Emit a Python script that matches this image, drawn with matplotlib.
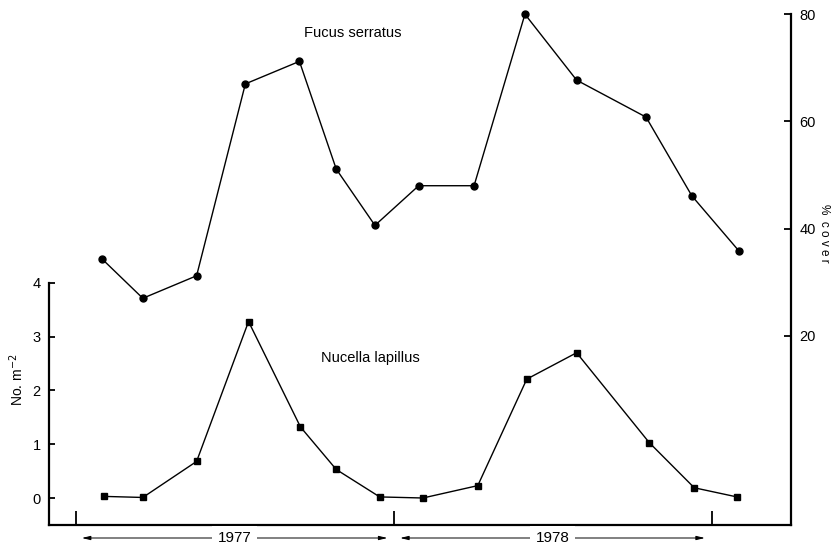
import matplotlib
matplotlib.use("Agg")
import matplotlib.pyplot as plt
import matplotlib.transforms as mtransforms

# ---- data (x in months from 1 Jan 1977) ----
fucus_month = [1.01, 2.54, 4.57, 6.41, 8.45, 9.84, 11.3, 12.95, 15.04, 16.96, 18.91, 21.53, 23.26, 25.04]
fucus_cover = [34.3, 27.0, 31.2, 67.0, 71.2, 51.1, 40.6, 48.0, 48.0, 80.0, 67.7, 60.8, 46.1, 35.8]
nucella_month = [1.07, 2.54, 4.57, 6.53, 8.49, 9.84, 11.48, 13.11, 15.18, 17.03, 18.91, 21.65, 23.35, 24.96]
nucella_density = [0.03, 0.01, 0.68, 3.28, 1.32, 0.53, 0.02, 0.0, 0.23, 2.21, 2.70, 1.03, 0.19, 0.02]
left_ticks = [0, 1, 2, 3, 4]
right_ticks = [20, 40, 60, 80]
year_ticks = [0, 12, 24]
years = ["1977", "1978"]
year_spans = [(0.24, 11.77), (12.25, 23.75)]

plt.rcParams['font.family'] = ['Liberation Sans', 'DejaVu Sans']

W, H = 838, 547
fig = plt.figure(figsize=(W / 100, H / 100), dpi=100)
left_px, right_px, top_px, bottom_px = 49, 791, 14, 525
ax = fig.add_axes([left_px / W, 1 - bottom_px / H, (right_px - left_px) / W, (bottom_px - top_px) / H])
ax2 = ax.twinx()

# left axis (Nucella)
ax.set_xlim(-1.0, 27.0)
ppu = 53.8
zero_px = 498
ax.set_ylim(-(bottom_px - zero_px) / ppu, (zero_px - top_px) / ppu)
ax.plot(nucella_month, nucella_density, color='black', lw=1.0, marker='s', ms=4.2,
        markerfacecolor='black', clip_on=False, zorder=3)
ax.set_yticks(left_ticks)
ax.set_yticklabels([str(t) for t in left_ticks], fontsize=10.5)
ax.spines['left'].set_bounds(ax.get_ylim()[0], 4)
ax.spines['top'].set_visible(False)
ax.spines['right'].set_visible(False)
for s in ('left', 'bottom'):
    ax.spines[s].set_linewidth(1.6)
ax.tick_params(axis='y', direction='in', length=4, width=1.3, pad=6)
ax.set_xticks(year_ticks)
ax.set_xticklabels([])
ax.tick_params(axis='x', direction='in', length=10, width=1.3)
ax.set_ylabel("No. m$^{-2}$", fontsize=10)
ax.yaxis.set_label_coords(-0.031, 0.285)

# right axis (Fucus)
pct_px = 5.36
zero_pct_px = 443
ax2.set_ylim(-(bottom_px - zero_pct_px) / pct_px, (zero_pct_px - top_px) / pct_px)
ax2.plot(fucus_month, fucus_cover, color='black', lw=1.0, marker='o', ms=5,
         markerfacecolor='black', clip_on=False, zorder=3)
ax2.set_yticks(right_ticks)
ax2.set_yticklabels([str(t) for t in right_ticks], fontsize=10.5)
for s in ('left', 'top', 'bottom'):
    ax2.spines[s].set_visible(False)
ax2.spines['right'].set_linewidth(1.6)
ax2.tick_params(axis='y', direction='in', length=5, width=1.3, pad=6)
ax2.text(1.045, 0.571, "%  c o v e r", transform=ax2.transAxes, rotation=-90,
         fontsize=8.5, ha='center', va='center')

# series labels
ax2.text(353, H - 33, "Fucus serratus", transform=None, fontsize=10.5, ha='center', va='center')
ax.text(370, H - 358, "Nucella lapillus", transform=None, fontsize=10.5, ha='center', va='center')

# year arrows below axis
trans = mtransforms.blended_transform_factory(ax.transData, ax.transAxes)
yf = -(538 - bottom_px) / (bottom_px - top_px)
for label, (x0, x1) in zip(years, year_spans):
    ax.annotate("", xy=(x1, yf), xytext=(x0, yf), xycoords=trans, textcoords=trans,
                arrowprops=dict(arrowstyle='<|-|>,head_length=0.5,head_width=0.12',
                                lw=0.7, color='black', shrinkA=0, shrinkB=0),
                annotation_clip=False)
    ax.text((x0 + x1) / 2, yf, label, transform=trans, fontsize=11, ha='center', va='center',
            bbox=dict(facecolor='white', edgecolor='none', pad=4), clip_on=False)

fig.savefig("out.png", dpi=100)
